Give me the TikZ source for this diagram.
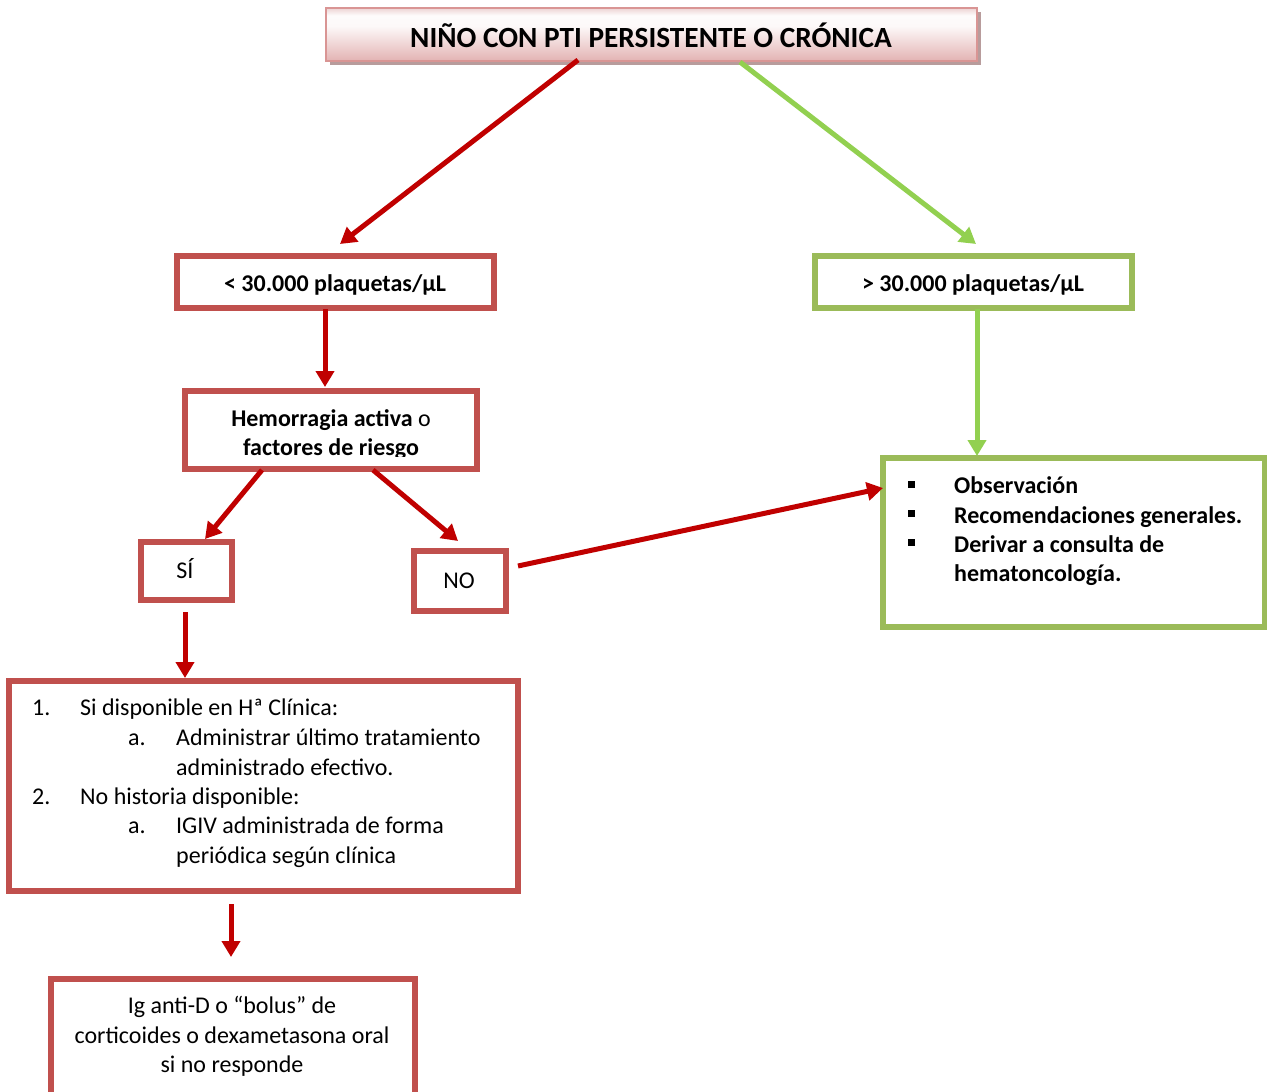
\documentclass[tikz,border=0pt]{standalone}
\usepackage{fontspec}
\setmainfont{Carlito}
\usetikzlibrary{arrows.meta,shadows}
\definecolor{boxred}{HTML}{C0504D}
\definecolor{arrred}{HTML}{C00000}
\definecolor{boxgreen}{HTML}{9BBB59}
\definecolor{arrgreen}{HTML}{92D050}
\definecolor{titleborder}{HTML}{D99594}
\definecolor{titlebot}{HTML}{E3B3B3}
\definecolor{titletop}{HTML}{EDD3D3}
\definecolor{shadowcol}{HTML}{B89C9C}
\pgfdeclareverticalshading{titleshade}{100bp}{color(0bp)=(titlebot); color(25bp)=(titlebot); color(58bp)=(white!92!titlebot); color(68bp)=(white!95!titlebot); color(75bp)=(titletop); color(100bp)=(titletop)}
\tikzset{
  rbox/.style={draw=boxred, line width=6pt, inner sep=0pt},
  gbox/.style={draw=boxgreen, line width=6pt, inner sep=0pt},
  rarrow/.style={draw=arrred, line width=5pt, -{Triangle[length=16pt,width=18pt]}},
  garrow/.style={draw=arrgreen, line width=5pt, -{Triangle[length=16pt,width=18pt]}},
  body/.style={inner sep=0pt, font=\fontsize{24}{29}\selectfont},
  bbody/.style={inner sep=0pt, font=\fontsize{24}{29}\selectfont\bfseries},
  bullet/.style={fill=black, inner sep=0pt, minimum size=7pt},
}
\begin{document}
\begin{tikzpicture}[x=1pt,y=-1pt]
\clip (0,0) rectangle (1267,1092);
\fill[white] (0,0) rectangle (1267,1092);

% title
\node[draw=titleborder, line width=2pt, shading=titleshade, minimum width=651pt, minimum height=53pt, inner sep=0pt,
      drop shadow={shadow xshift=4pt, shadow yshift=-4pt, fill=shadowcol, opacity=1}] (title) at (651.5,34.5) {};
\node[inner sep=0pt, anchor=base, font=\fontsize{29.3}{32}\selectfont\bfseries] (titletext) at (651,47) {NIÑO CON PTI PERSISTENTE O CRÓNICA};

% level 2 boxes
\node[rbox, minimum width=317pt, minimum height=52pt] (lo) at (335.5,282) {};
\node[bbody, anchor=base] (lotext) at (335,291) {< 30.000 plaquetas/µL};
\node[gbox, minimum width=317pt, minimum height=52pt] (hi) at (973.5,282) {};
\node[bbody, anchor=base] (hitext) at (973,291) {> 30.000 plaquetas/µL};

% hemorragia box
\node[bbody, anchor=base] (h1) at (331,426) {Hemorragia activa \mdseries o};
\begin{scope}
\clip (190,430) rectangle (472,456);
\node[bbody, anchor=base] (h2) at (331,455) {factores de riesgo};
\end{scope}
\node[rbox, minimum width=292pt, minimum height=78pt] (hem) at (331,429.5) {};

% SI / NO
\node[rbox, minimum width=91pt, minimum height=58pt] (si) at (186,570.5) {};
\node[body, anchor=base] (sitext) at (185,578) {SÍ};
\node[rbox, minimum width=92pt, minimum height=60pt] (no) at (459.5,580.5) {};
\node[body, anchor=base] (notext) at (459,588) {NO};

% green list box
\node[gbox, minimum width=382pt, minimum height=169pt] (obs) at (1074,542) {};
\node[bullet] (b1) at (911,484) {};
\node[bullet] (b2) at (911,513) {};
\node[bullet] (b3) at (911,542) {};
\node[bbody, anchor=base west] (o1) at (954,493) {Observación};
\node[bbody, anchor=base west] (o2) at (954,523) {Recomendaciones generales.};
\node[bbody, anchor=base west] (o3) at (954,552) {Derivar a consulta de};
\node[bbody, anchor=base west] (o4) at (954,581) {hematoncología.};

% numbered box
\node[rbox, minimum width=509pt, minimum height=210pt] (trat) at (263.5,785.5) {};
\node[body, anchor=base west] (n1) at (32,715) {1.};
\node[body, anchor=base west] (n1t) at (80,715) {Si disponible en Hª Clínica:};
\node[body, anchor=base west] (n1a) at (128,745) {a.};
\node[body, anchor=base west] (n1at) at (176,745) {Administrar último tratamiento};
\node[body, anchor=base west] (n1bt) at (176,775) {administrado efectivo.};
\node[body, anchor=base west] (n2) at (32,804) {2.};
\node[body, anchor=base west] (n2t) at (80,804) {No historia disponible:};
\node[body, anchor=base west] (n2a) at (128,833) {a.};
\node[body, anchor=base west] (n2at) at (176,833) {IGIV administrada de forma};
\node[body, anchor=base west] (n2bt) at (176,863) {periódica según clínica};

% bottom box
\node[rbox, minimum width=364pt, minimum height=130pt] (ig) at (232.5,1044) {};
\node[body, anchor=base] (ig1) at (232,1013) {Ig anti-D o “bolus” de};
\node[body, anchor=base] (ig2) at (232,1043) {corticoides o dexametasona oral};
\node[body, anchor=base] (ig3) at (232,1072) {si no responde};

% arrow end points
\coordinate (a1s) at (578,60);  \coordinate (a1e) at (340,244);
\coordinate (a2s) at (740,62);  \coordinate (a2e) at (976,244);
\coordinate (a3s) at (325,309); \coordinate (a3e) at (325,387);
\coordinate (a4s) at (977,309); \coordinate (a4e) at (977,456);
\coordinate (a5s) at (262,470); \coordinate (a5e) at (205,539);
\coordinate (a6s) at (373,470); \coordinate (a6e) at (458,541);
\coordinate (a7s) at (518,566); \coordinate (a7e) at (883,488);
\coordinate (a8s) at (185,612); \coordinate (a8e) at (185,678);
\coordinate (a9s) at (231,904); \coordinate (a9e) at (231,957);

\draw[rarrow] (a1s) -- (a1e);
\draw[garrow] (a2s) -- (a2e);
\draw[rarrow] (a3s) -- (a3e);
\draw[garrow] (a4s) -- (a4e);
\draw[rarrow] (a5s) -- (a5e);
\draw[rarrow] (a6s) -- (a6e);
\draw[rarrow] (a7s) -- (a7e);
\draw[rarrow] (a8s) -- (a8e);
\draw[rarrow] (a9s) -- (a9e);
\end{tikzpicture}
\end{document}
